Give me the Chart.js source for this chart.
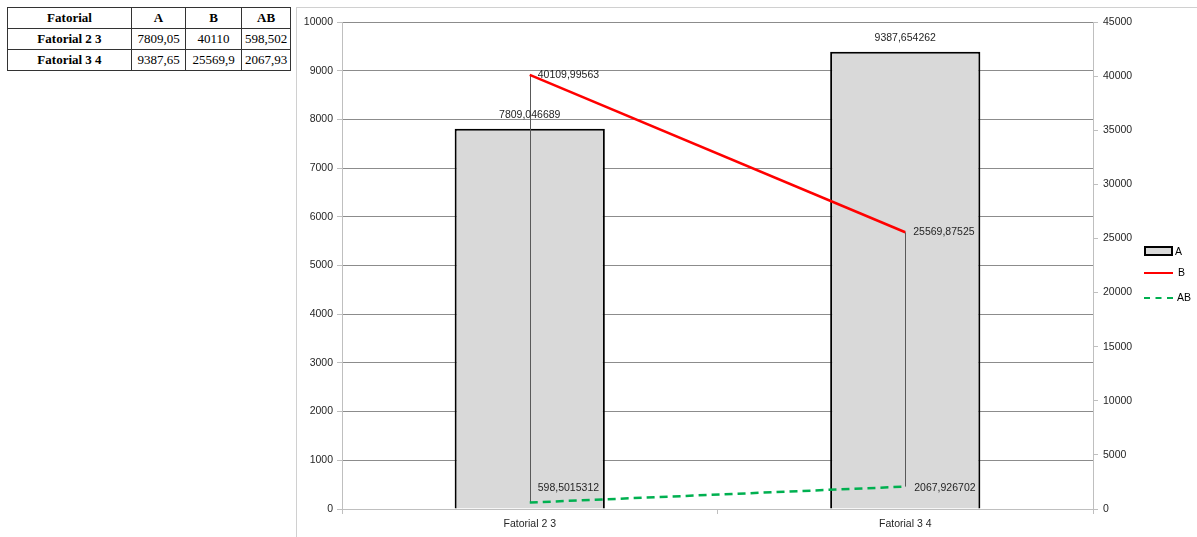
<!DOCTYPE html>
<html>
<head>
<meta charset="utf-8">
<script src="https://cdn.jsdelivr.net/npm/chart.js@4.4.1/dist/chart.umd.min.js"></script>
<style>
  html, body { margin: 0; padding: 0; background: #fff; }
  body { width: 1197px; height: 537px; position: relative; overflow: hidden; }
  #tbl { position: absolute; left: 7px; top: 7px; border-collapse: collapse;
         font-family: "Liberation Serif", "Times New Roman", serif; font-size: 13px; color: #000; }
  #tbl td, #tbl th { border: 1px solid #333; padding: 0 3px; height: 20px; text-align: center; }
  #tbl th { font-weight: bold; }
  #tbl td.h { font-weight: bold; }
  #frame { position: absolute; left: 296px; top: 7px; width: 910px; height: 540px;
           border-left: 1px solid #d0d0d0; border-top: 1px solid #d0d0d0; }
  #wrap { position: absolute; left: 297px; top: 8px; width: 900px; height: 529px; }
  #legend { position: absolute; left: 1144px; top: 240px; font-family: "Liberation Sans", Arial, sans-serif;
            font-size: 10.5px; color: #000; }
  .li { position: absolute; left: 0; width: 60px; height: 16px; }
  .sym { position: absolute; left: 0; }
  .lt { position: absolute; top: 3px; }
</style>
</head>
<body>
<table id="tbl"></table>
<div id="frame"></div>
<div id="wrap"><canvas id="c" width="900" height="529"></canvas></div>
<div id="legend">
  <div class="li" style="top:3px"><div class="sym" style="left:0;top:3px;width:25px;height:6px;background:#d9d9d9;border:2px solid #000;"></div><span class="lt" style="left:31px;top:2px">A</span></div>
  <div class="li" style="top:26px"><div class="sym" style="left:0;top:6px;width:29px;height:0;border-top:2.5px solid #ff0000;"></div><span class="lt" style="left:34px;top:0px">B</span></div>
  <div class="li" style="top:51px"><div class="sym" style="left:0;top:6px;width:29px;height:0;border-top:2.5px dashed #00b050;"></div><span class="lt" style="left:33px;top:0px">AB</span></div>
</div>
<script>
const categories = ["Fatorial 2 3", "Fatorial 3 4"];
const seriesA = [7809.046689, 9387.654262];
const seriesB = [40109.99563, 25569.87525];
const seriesAB = [598.5015312, 2067.926702];
const tableHeader = ["Fatorial", "A", "B", "AB"];

// Build the table from the data
(function () {
  const t = document.getElementById('tbl');
  let html = '<tr>' + tableHeader.map(h => '<th>' + h + '</th>').join('') + '</tr>';
  const fmt = v => String(parseFloat(v.toPrecision(6))).replace('.', ',');
  categories.forEach((c, i) => {
    html += '<tr><td class="h">' + c + '</td><td>' + fmt(seriesA[i]) + '</td><td>' + fmt(seriesB[i]) + '</td><td>' + fmt(seriesAB[i]) + '</td></tr>';
  });
  t.innerHTML = html;
  const widths = [117, 47, 49, 42];
  t.querySelectorAll('th').forEach((th, i) => th.style.width = widths[i] + 'px');
})();

const FONT = '"Liberation Sans", Arial, sans-serif';
const fmtFull = v => String(v).replace('.', ',');
const plainTick = v => String(v);

const labelPlugin = {
  id: 'labels',
  afterDatasetsDraw(chart) {
    const ctx = chart.ctx;
    ctx.save();
    ctx.font = '10.5px ' + FONT;
    ctx.fillStyle = '#262626';
    chart.data.datasets.forEach((ds, di) => {
      const meta = chart.getDatasetMeta(di);
      meta.data.forEach((el, i) => {
        const txt = fmtFull(ds.data[i]);
        const off = ds.labelOffsets[i];
        ctx.textAlign = ds.labelAlign === 'top' ? 'center' : 'left';
        ctx.textBaseline = 'middle';
        ctx.fillText(txt, el.x + off[0], el.y + off[1]);
      });
    });
    ctx.restore();
  }
};

const dropPlugin = {
  id: 'drop',
  afterDatasetDraw(chart, args) {
    if (args.index !== 0) return;
    const mB = chart.getDatasetMeta(1), mAB = chart.getDatasetMeta(2);
    const ctx = chart.ctx;
    ctx.save();
    ctx.strokeStyle = '#595959';
    ctx.lineWidth = 1;
    mB.data.forEach((p, i) => {
      const q = mAB.data[i];
      const x = Math.round(p.x) + 0.5;
      ctx.beginPath();
      ctx.moveTo(x, p.y);
      ctx.lineTo(x, q.y);
      ctx.stroke();
    });
    ctx.restore();
  }
};

new Chart(document.getElementById('c'), {
  data: {
    labels: categories,
    datasets: [
      { type: 'bar', label: 'A', data: seriesA, yAxisID: 'y', order: 3,
        backgroundColor: '#d9d9d9', borderColor: '#000', borderWidth: 2,
        categoryPercentage: 1, barPercentage: 0.4,
        labelAlign: 'top', labelOffsets: [[0, -14], [0, -14]] },
      { type: 'line', label: 'B', data: seriesB, yAxisID: 'y2', order: 1,
        borderColor: '#ff0000', borderWidth: 2.5, pointRadius: 0, fill: false,
        labelAlign: 'right', labelOffsets: [[8, 0], [8, 0]] },
      { type: 'line', label: 'AB', data: seriesAB, yAxisID: 'y2', order: 2,
        borderColor: '#00b050', borderWidth: 2.5, borderDash: [8, 5], pointRadius: 0, fill: false,
        labelAlign: 'right', labelOffsets: [[8, -14], [9, 1]] }
    ]
  },
  options: {
    responsive: false,
    animation: false,
    devicePixelRatio: 1,
    layout: { padding: { top: 14, left: 0, right: 0, bottom: 0 } },
    plugins: { legend: { display: false }, tooltip: { enabled: false } },
    scales: {
      x: {
        offset: true,
        grid: { offset: true, drawOnChartArea: false, drawTicks: true, tickLength: 5, color: '#bfbfbf' },
        border: { color: '#bfbfbf' },
        ticks: { font: { family: FONT, size: 10.5 }, color: '#262626', padding: 4, maxRotation: 0 },
        afterFit: s => { s.height = 28; }
      },
      y: {
        position: 'left', min: 0, max: 10000,
        ticks: { stepSize: 1000, font: { family: FONT, size: 10.5 }, color: '#262626', padding: 4, callback: plainTick },
        grid: { color: '#8c8c8c', tickColor: '#bfbfbf', tickLength: 5 },
        border: { color: '#bfbfbf' },
        afterFit: s => { s.width = 45; }
      },
      y2: {
        position: 'right', min: 0, max: 45000,
        ticks: { stepSize: 5000, font: { family: FONT, size: 10.5 }, color: '#262626', padding: 5, callback: plainTick },
        grid: { drawOnChartArea: false, tickColor: '#bfbfbf', tickLength: 5 },
        border: { color: '#bfbfbf' },
        afterFit: s => { s.width = 104; }
      }
    }
  },
  plugins: [dropPlugin, labelPlugin]
});
</script>
</body>
</html>
